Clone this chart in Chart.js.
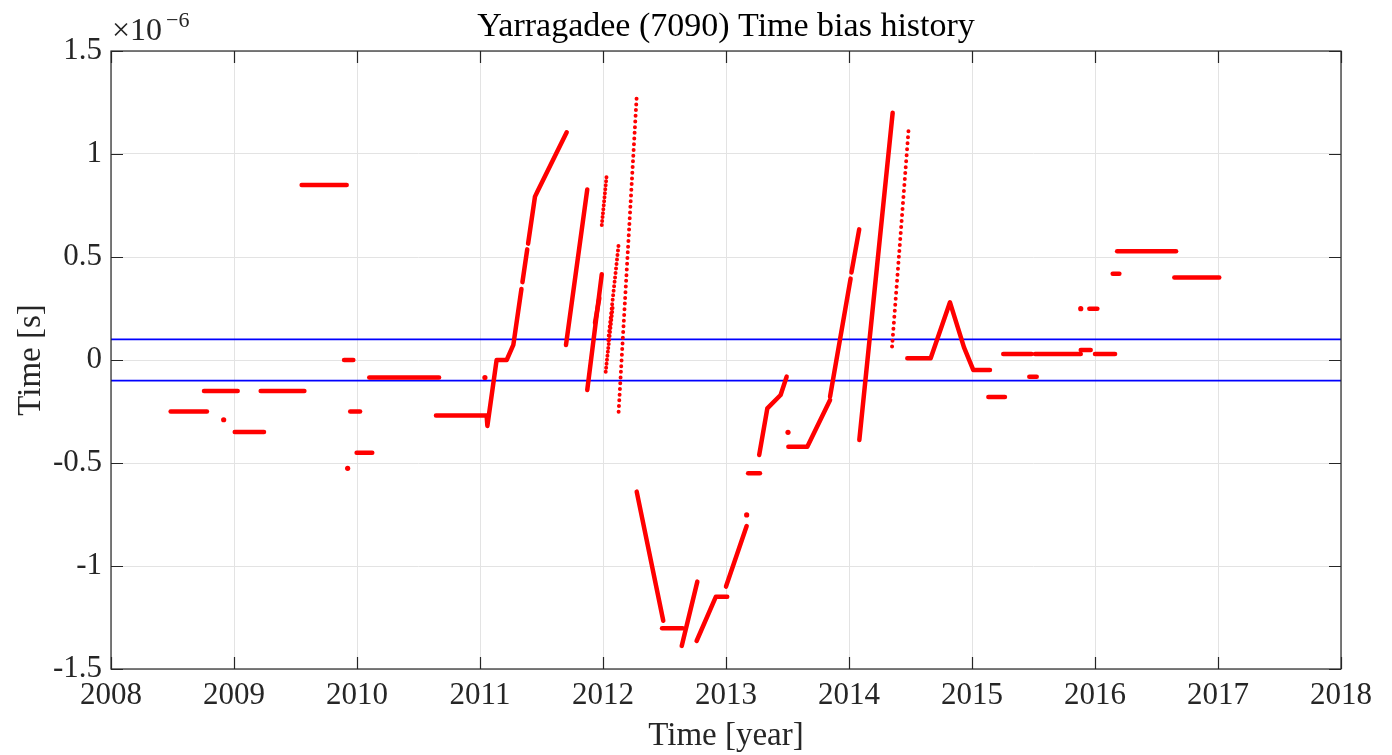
<!DOCTYPE html>
<html>
<head>
<meta charset="utf-8">
<title>Yarragadee (7090) Time bias history</title>
<script src="https://cdn.jsdelivr.net/npm/chart.js@4.4.1/dist/chart.umd.min.js"></script>
<style>
  html, body { margin: 0; padding: 0; background: #fff; }
  canvas { display: block; }
</style>
</head>
<body>
<canvas id="biasChart" width="1392" height="755"></canvas>
<script>
// values in units of 1e-6 s, time in decimal years
var xTicks = [2008, 2009, 2010, 2011, 2012, 2013, 2014, 2015, 2016, 2017, 2018];
var yTicks = [-1.5, -1, -0.5, 0, 0.5, 1, 1.5];
var thresholds = [0.1, -0.1];

// continuous stretches of the time bias record
var solidTracks = [
  [[2008.485, -0.25], [2008.78, -0.25]],
  [[2008.756, -0.15], [2009.03, -0.15]],
  [[2009.006, -0.35], [2009.244, -0.35]],
  [[2009.217, -0.15], [2009.572, -0.15]],
  [[2009.55, 0.85], [2009.916, 0.85]],
  [[2009.895, 0], [2009.97, 0]],
  [[2009.945, -0.25], [2010.025, -0.25]],
  [[2009.997, -0.45], [2010.124, -0.45]],
  [[2010.1, -0.085], [2010.667, -0.085]],
  [[2010.642, -0.27], [2011.054, -0.27], [2011.06, -0.32], [2011.135, 0], [2011.217, 0], [2011.271, 0.073], [2011.337, 0.345]],
  [[2011.345, 0.378], [2011.384, 0.537]],
  [[2011.391, 0.565], [2011.447, 0.793], [2011.466, 0.817], [2011.705, 1.105]],
  [[2011.699, 0.073], [2011.872, 0.828]],
  [[2011.872, -0.146], [2011.99, 0.416]],
  [[2011.935, 0.18], [2011.97, 0.30]],
  [[2012.274, -0.639], [2012.49, -1.266]],
  [[2012.48, -1.302], [2012.648, -1.302]],
  [[2012.64, -1.388], [2012.767, -1.076]],
  [[2012.761, -1.364], [2012.918, -1.149], [2013.01, -1.149]],
  [[2013.0, -1.1], [2013.168, -0.806]],
  [[2013.18, -0.55], [2013.276, -0.55]],
  [[2013.27, -0.461], [2013.336, -0.235], [2013.444, -0.17], [2013.493, -0.081]],
  [[2013.507, -0.421], [2013.661, -0.421], [2013.846, -0.194]],
  [[2013.846, -0.178], [2014.013, 0.395]],
  [[2014.02, 0.425], [2014.083, 0.634]],
  [[2014.084, -0.388], [2014.355, 1.2]],
  [[2014.474, 0.008], [2014.664, 0.008], [2014.821, 0.28], [2014.935, 0.061], [2015.011, -0.049], [2015.146, -0.049]],
  [[2015.133, -0.18], [2015.268, -0.18]],
  [[2015.254, 0.029], [2015.485, 0.029]],
  [[2015.466, -0.081], [2015.526, -0.081]],
  [[2015.512, 0.029], [2015.884, 0.029]],
  [[2015.884, 0.049], [2015.965, 0.049]],
  [[2015.954, 0.249], [2016.019, 0.249]],
  [[2016.0, 0.029], [2016.163, 0.029]],
  [[2016.144, 0.419], [2016.198, 0.419]],
  [[2016.18, 0.528], [2016.659, 0.528]],
  [[2016.645, 0.4], [2017.01, 0.4]]
];

// sparse stretches, drawn as separate dots
var dottedTracks = [
  [[2011.99, 0.655], [2012.03, 0.898]],
  [[2012.022, -0.057], [2012.079, 0.259]],
  [[2012.043, 0.097], [2012.128, 0.566]],
  [[2012.127, -0.251], [2012.273, 1.27]],
  [[2014.35, 0.065], [2014.485, 1.124]]
];
var dottedGaps = [4, 4, 4.5, 5.7, 6];

var singlePoints = [
  [2008.916, -0.29], [2009.924, -0.526], [2011.04, -0.085],
  [2013.168, -0.752], [2013.504, -0.351], [2015.884, 0.249]
];

var FONT = "'Liberation Serif', 'DejaVu Serif', serif";
var INK = '#262626';

function toXY(arr) {
  return arr.map(function(p) { return {x: p[0], y: p[1]}; });
}

var datasets = [];
thresholds.forEach(function(t) {
  datasets.push({
    data: [{x: 2008, y: t}, {x: 2018, y: t}],
    showLine: true, borderColor: '#0000ff', borderWidth: 1.6,
    pointRadius: 0, order: 2
  });
});
solidTracks.forEach(function(tr) {
  datasets.push({
    data: toXY(tr), showLine: true, borderColor: '#ff0000', borderWidth: 4.5,
    borderCapStyle: 'round', borderJoinStyle: 'round', pointRadius: 0, order: 1
  });
});
dottedTracks.forEach(function(tr, i) {
  datasets.push({
    data: toXY(tr), showLine: true, borderColor: '#ff0000', borderWidth: 4,
    borderCapStyle: 'round', borderDash: [0, dottedGaps[i]], pointRadius: 0, order: 1
  });
});
datasets.push({
  data: toXY(singlePoints), showLine: false, pointRadius: 2.6,
  pointBackgroundColor: '#ff0000', pointBorderWidth: 0, order: 1
});

var matlabFrame = {
  id: 'matlabFrame',
  afterDraw: function(chart) {
    var ctx = chart.ctx, a = chart.chartArea;
    var xs = chart.scales.x, ys = chart.scales.y;
    ctx.save();
    ctx.strokeStyle = INK;
    ctx.lineWidth = 1.2;
    ctx.strokeRect(a.left, a.top, a.right - a.left, a.bottom - a.top);
    ctx.beginPath();
    xTicks.forEach(function(v) {
      var px = Math.round(xs.getPixelForValue(v)) + 0.5;
      ctx.moveTo(px, a.bottom); ctx.lineTo(px, a.bottom - 12);
      ctx.moveTo(px, a.top); ctx.lineTo(px, a.top + 12);
    });
    yTicks.forEach(function(v) {
      var py = Math.round(ys.getPixelForValue(v)) + 0.5;
      ctx.moveTo(a.left, py); ctx.lineTo(a.left + 12, py);
      ctx.moveTo(a.right, py); ctx.lineTo(a.right - 12, py);
    });
    ctx.stroke();

    ctx.fillStyle = '#000';
    ctx.textAlign = 'center';
    ctx.textBaseline = 'alphabetic';
    ctx.font = '34px ' + FONT;
    ctx.fillText('Yarragadee (7090) Time bias history', (a.left + a.right) / 2, 36);
    ctx.fillStyle = INK;
    ctx.font = '33px ' + FONT;
    ctx.fillText('Time [year]', (a.left + a.right) / 2, 745);
    ctx.save();
    ctx.translate(40, (a.top + a.bottom) / 2);
    ctx.rotate(-Math.PI / 2);
    ctx.fillText('Time [s]', 0, 0);
    ctx.restore();

    ctx.textAlign = 'left';
    ctx.font = '32px ' + FONT;
    ctx.fillText('\u00d710', 112, 40);
    ctx.font = '22px ' + FONT;
    ctx.fillText('\u22126', 166, 27);
    ctx.restore();
  }
};

var ctx = document.getElementById('biasChart');
var biasChart = new Chart(ctx, {
  type: 'scatter',
  data: { datasets: datasets },
  options: {
    responsive: false,
    animation: false,
    layout: { padding: { left: 0, right: 51, top: 51, bottom: 0 } },
    plugins: { legend: { display: false }, tooltip: { enabled: false }, title: { display: false } },
    scales: {
      x: {
        type: 'linear', min: 2008, max: 2018,
        afterBuildTicks: function(scale) { scale.ticks = xTicks.map(function(v) { return {value: v}; }); },
        afterFit: function(scale) { scale.height = 86; },
        grid: { color: '#e3e3e3', lineWidth: 1, drawTicks: false },
        border: { display: false },
        ticks: {
          color: INK, padding: 8, maxRotation: 0,
          font: { family: FONT, size: 31 },
          callback: function(v) { return String(v); }
        }
      },
      y: {
        type: 'linear', min: -1.5, max: 1.5,
        afterBuildTicks: function(scale) { scale.ticks = yTicks.map(function(v) { return {value: v}; }); },
        afterFit: function(scale) { scale.width = 111; },
        grid: { color: '#e3e3e3', lineWidth: 1, drawTicks: false },
        border: { display: false },
        ticks: {
          color: INK, padding: 9,
          font: { family: FONT, size: 31 },
          callback: function(v) { return String(v); }
        }
      }
    }
  },
  plugins: [matlabFrame]
});
</script>
</body>
</html>
